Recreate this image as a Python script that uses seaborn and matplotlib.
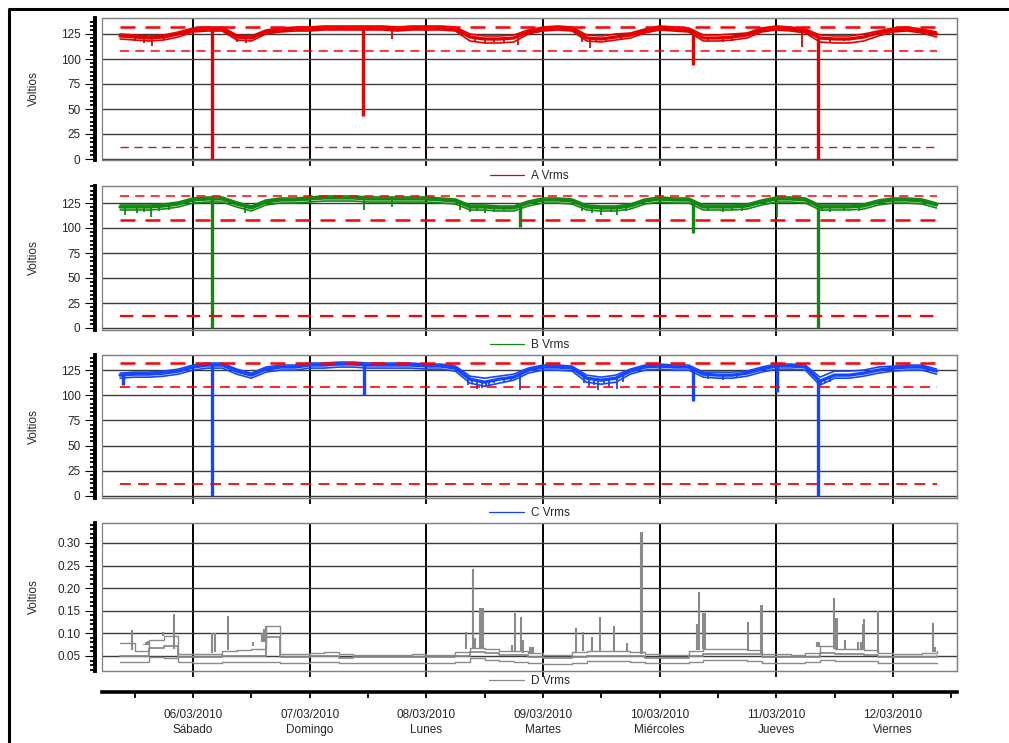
import numpy as np
import matplotlib
matplotlib.use("Agg")
import matplotlib.pyplot as plt
import seaborn as sns
from matplotlib.ticker import AutoMinorLocator, NullLocator, FormatStrFormatter
from matplotlib.lines import Line2D
from matplotlib.patches import Rectangle

# ---------------- data (hours since 05/03/2010 00:00) ----------------
hours = list(range(9, 178, 3))

A_avg = [123,122,121,122,125,129,130,130,122,121,
         127,129,130,130,131,131,131,131,131,130,
         131,131,131,130,122,120,120,121,127,130,
         131,130,121,120,122,124,128,131,130,129,
         121,121,122,124,129,131,130,128,121,120,
         120,122,126,129,130,128,125]
A_hi = [125,124,123,124,127,131,132,132,124,123,
        129,131,132,132,133,133,133,133,133,132,
        133,133,133,132,125,123,123,124,129,132,
        133,132,124,123,125,126,130,133,132,131,
        124,124,125,126,131,133,132,130,124,123,
        123,125,128,131,132,130,127]
A_lo = [120,119,118,119,122,127,128,128,119,118,
        125,127,128,128,129,129,129,129,129,128,
        129,129,129,128,118,116,116,117,125,128,
        129,128,118,117,119,121,126,129,128,127,
        118,118,119,121,127,129,128,126,117,116,
        116,118,123,127,128,126,122]
A_drop_t = [28.0, 59.0, 126.9, 152.6]
A_drop_v = [0, 43, 94, 0]
A_tick_t = [12.0, 14.0, 15.5, 18.0, 33.0, 35.0, 65.0, 82.0, 84.0, 86.0, 88.0, 90.9,
            104.0, 105.7, 107.0, 109.0, 112.0, 130.0, 133.0, 135.0, 149.3, 155.0, 158.0]
A_tick_v = [118, 116, 113, 119, 117, 116, 120, 117, 116, 117, 116, 114,
            117, 111, 117, 118, 119, 118, 117, 118, 112, 117, 118]

B_avg = [121,121,121,122,124,128,129,129,124,120,
         126,128,128,129,130,130,130,129,129,129,
         129,129,128,127,121,121,120,120,125,128,
         128,127,121,120,120,122,127,129,128,128,
         121,121,121,122,126,129,129,128,121,121,
         121,122,126,128,128,127,123]
B_hi = [123,123,123,124,126,130,131,131,126,122,
        128,130,130,131,132,132,132,131,131,131,
        131,131,130,129,123,123,122,122,127,130,
        130,129,123,122,122,124,129,131,130,130,
        123,123,123,124,128,131,131,130,123,123,
        123,124,128,130,130,129,125]
B_lo = [118,118,118,119,121,125,126,126,121,117,
        123,125,125,126,127,127,127,126,126,126,
        126,126,125,124,118,118,117,117,122,125,
        125,124,118,117,117,119,124,126,125,125,
        118,118,118,119,123,126,126,125,118,118,
        118,119,123,125,125,124,120]
B_drop_t = [27.9, 91.2, 126.9, 152.6]
B_drop_v = [0, 101, 95, 0]
B_tick_t = [10.0, 12.5, 14.0, 15.3, 17.0, 19.0, 34.8, 59.1, 65.0, 79.0,
            81.0, 82.5, 84.0, 86.0, 88.0, 104.0, 106.0, 108.0, 110.0, 111.3,
            113.0, 130.0, 133.0, 135.0, 137.0, 144.2, 153.5, 155.0, 158.0, 161.0]
B_tick_v = [113, 115, 116, 111, 117, 118, 115, 118, 121, 118,
            116, 117, 115, 116, 117, 117, 115, 113, 116, 113,
            117, 117, 116, 118, 117, 111, 117, 116, 118, 117]

C_avg = [120,121,121,122,124,128,130,130,124,120,
         126,128,128,130,130,131,131,130,130,130,
         130,129,129,127,116,113,116,118,125,128,
         128,127,117,115,117,124,128,129,128,128,
         121,120,120,122,126,129,129,128,114,120,
         120,122,125,127,128,128,124]
C_hi = [122,123,123,124,126,130,132,132,126,122,
        128,130,130,132,132,133,133,132,132,132,
        132,131,131,129,119,117,119,121,127,130,
        130,129,120,118,120,126,130,131,130,130,
        123,123,123,124,128,131,131,130,118,124,
        124,125,128,129,130,130,126]
C_lo = [117,118,118,119,121,125,127,127,121,117,
        123,125,125,127,127,128,128,127,127,127,
        127,126,126,124,112,109,112,115,122,125,
        125,124,113,111,113,121,125,126,125,125,
        118,117,117,119,123,126,126,125,110,117,
        117,119,122,124,125,125,121]
C_drop_t = [9.7, 27.9, 59.1, 126.9, 144.2, 152.6]
C_drop_v = [110, 0, 100, 94, 103, 0]
C_tick_t = [80.5, 81.5, 82.5, 83.4, 84.2, 85.0, 86.0, 88.0, 89.5, 91.2,
            104.5, 105.5, 106.5, 107.4, 108.5, 109.5, 111.3, 112.5,
            130.0, 133.0, 136.0, 153.2, 154.0, 155.0]
C_tick_v = [110, 112, 106, 107, 108, 109, 112, 113, 114, 105,
            112, 109, 110, 105, 111, 108, 106, 113,
            116, 115, 117, 110, 112, 113]

D_max = [0.078,0.060,0.085,0.095,0.054,0.054,0.055,0.062,0.064,0.066,
         0.116,0.054,0.054,0.056,0.058,0.054,0.053,0.053,0.053,0.053,
         0.054,0.053,0.053,0.058,0.068,0.066,0.062,0.060,0.056,0.053,
         0.053,0.058,0.062,0.062,0.060,0.058,0.054,0.053,0.053,0.060,
         0.066,0.066,0.066,0.064,0.055,0.054,0.053,0.056,0.072,0.066,
         0.066,0.064,0.056,0.055,0.055,0.056,0.060]
D_avg = [0.050,0.050,0.068,0.072,0.048,0.047,0.047,0.049,0.050,0.050,
         0.092,0.047,0.047,0.049,0.050,0.046,0.047,0.047,0.047,0.047,
         0.047,0.047,0.047,0.050,0.058,0.056,0.053,0.052,0.048,0.045,
         0.045,0.048,0.051,0.051,0.050,0.049,0.046,0.046,0.046,0.050,
         0.055,0.055,0.055,0.054,0.048,0.047,0.047,0.048,0.056,0.054,
         0.054,0.053,0.048,0.048,0.048,0.048,0.049]
D_min = [0.037,0.037,0.048,0.045,0.036,0.034,0.034,0.036,0.037,0.037,
         0.036,0.035,0.035,0.036,0.036,0.034,0.034,0.034,0.034,0.034,
         0.034,0.034,0.034,0.036,0.045,0.042,0.038,0.037,0.035,0.032,
         0.032,0.035,0.039,0.039,0.038,0.037,0.034,0.034,0.034,0.037,
         0.041,0.041,0.041,0.040,0.035,0.034,0.034,0.036,0.041,0.040,
         0.040,0.039,0.035,0.034,0.034,0.034,0.035]
D_spike_t = [11.5, 13.7, 14.0, 14.4, 14.8, 17.9, 20.1, 27.9, 28.5, 31.3,
             36.4, 38.1, 38.6, 39.0, 80.1, 81.7, 82.0, 83.0, 83.3, 83.6,
             89.6, 90.25, 91.4, 91.8, 93.3, 93.7, 94.0, 102.9, 104.3, 106.0,
             107.7, 110.6, 113.2, 116.1, 116.4, 127.8, 128.1, 129.0, 129.3, 138.3,
             140.8, 141.1, 152.4, 152.8, 155.9, 156.2, 156.6, 158.2, 160.9, 161.4,
             161.9, 162.1, 165.0, 176.2, 176.7]
D_spike_v = [0.108, 0.075, 0.075, 0.075, 0.075, 0.102, 0.143, 0.100, 0.100, 0.138,
             0.080, 0.080, 0.080, 0.080, 0.102, 0.243, 0.090, 0.155, 0.155, 0.155,
             0.075, 0.144, 0.136, 0.085, 0.070, 0.070, 0.070, 0.111, 0.104, 0.091,
             0.136, 0.116, 0.078, 0.323, 0.323, 0.120, 0.192, 0.144, 0.144, 0.126,
             0.163, 0.163, 0.082, 0.082, 0.178, 0.133, 0.133, 0.085, 0.080, 0.080,
             0.120, 0.131, 0.150, 0.124, 0.070]

volt_limits = [132, 108, 12]
volt_ticks = [0, 25, 50, 75, 100, 125]
thd_ticks = [0.05, 0.10, 0.15, 0.20, 0.25, 0.30]

day_pos = [24, 48, 72, 96, 120, 144, 168]
half_pos = [12, 36, 60, 84, 108, 132, 156, 180]
day_labels = ["06/03/2010\nSábado", "07/03/2010\nDomingo", "08/03/2010\nLunes",
              "09/03/2010\nMartes", "10/03/2010\nMiércoles", "11/03/2010\nJueves",
              "12/03/2010\nViernes"]
series_labels = ["A Vrms", "B Vrms", "C Vrms", "D Vrms"]
ylabel = "Voltios"

# ---------------- style ----------------
sns.set_style("white")
plt.rcParams['font.family'] = ['Liberation Sans', 'DejaVu Sans']
FS = 8.5

W, H = 1009, 743
fig = plt.figure(figsize=(W / 100, H / 100), dpi=100)

XL = (5.28, 181.2)
left_px, right_px = 102, 957
panels_px = [(18, 160), (186, 330), (355, 498), (523, 671)]
legend_y_px = [176, 345, 513, 681]
ylims = [(-1, 141), (-2, 142), (-2, 140), (0.0168, 0.344)]

GRID_H = '#3a3a3a'
BOX = '#808080'


def make_axes(i):
    top, bot = panels_px[i]
    ax = fig.add_axes([left_px / W, 1 - bot / H, (right_px - left_px) / W, (bot - top) / H])
    ax.set_xlim(*XL)
    ax.set_ylim(*ylims[i])
    ax.set_axisbelow(True)
    for s in ['top', 'right', 'bottom']:
        ax.spines[s].set_color(BOX)
        ax.spines[s].set_linewidth(0.9)
    ax.spines['left'].set_position(('outward', 5))
    ax.spines['left'].set_linewidth(2.8)
    ax.spines['left'].set_color('black')
    ax.add_patch(Rectangle((0, 0), 1, 1, transform=ax.transAxes, fill=False,
                           ec=BOX, lw=0.9, clip_on=False, zorder=5))
    ax.set_xticks(day_pos)
    ax.set_xticklabels([])
    ax.xaxis.set_minor_locator(NullLocator())
    ax.tick_params(axis='x', which='major', direction='out', length=4, width=1.3,
                   color='black', bottom=True)
    ax.tick_params(axis='y', which='major', direction='out', length=7, width=0.8,
                   pad=3.5, labelsize=FS, color='black', left=True)
    ax.tick_params(axis='y', which='minor', direction='out', length=3.5, width=1.3,
                   color='black', left=True)
    ax.grid(axis='y', which='major', color=GRID_H, lw=1.0)
    ax.grid(axis='x', which='major', color='black', lw=1.4)
    ax.set_ylabel(ylabel, fontsize=FS)
    ax.yaxis.set_label_coords(-0.073, 0.5)
    return ax


def add_legend(ax, i, color):
    h = Line2D([], [], color=color, lw=0.9)
    ax.legend([h], [series_labels[i]], loc='center',
              bbox_to_anchor=(0.5 * (left_px + right_px) / W, 1 - legend_y_px[i] / H),
              bbox_transform=fig.transFigure, frameon=False, fontsize=FS,
              handlelength=2.9, handletextpad=0.6, borderaxespad=0, borderpad=0)


def volt_panel(i, avg, hi, lo, drop_t, drop_v, tick_t, tick_v, color, lim_styles):
    ax = make_axes(i)
    ax.set_yticks(volt_ticks)
    ax.yaxis.set_minor_locator(AutoMinorLocator(6))
    sns.lineplot(x=hours, y=hi, ax=ax, color=color, lw=1.2, estimator=None,
                 sort=False, legend=False, zorder=2)
    sns.lineplot(x=hours, y=lo, ax=ax, color=color, lw=1.2, estimator=None,
                 sort=False, legend=False, zorder=2)
    sns.lineplot(x=hours, y=avg, ax=ax, color=color, lw=2.4, estimator=None,
                 sort=False, legend=False, zorder=2)
    base_d = np.interp(drop_t, hours, avg)
    ax.vlines(drop_t, drop_v, base_d, color=color, lw=2.4, zorder=2)
    base_t = np.interp(tick_t, hours, avg)
    ax.vlines(tick_t, tick_v, base_t, color=color, lw=1.3, zorder=2)
    for val, (lw, c) in zip(volt_limits, lim_styles):
        ax.hlines(val, hours[0], hours[-1], color=c, lw=lw, linestyles=(0, (6, 4)),
                  zorder=3)
    add_legend(ax, i, color)
    return ax


RED = '#FF0000'
volt_panel(0, A_avg, A_hi, A_lo, A_drop_t, A_drop_v, A_tick_t, A_tick_v, '#E30000',
           [(1.8, RED), (1.1, RED), (1.0, '#A0284A')])
volt_panel(1, B_avg, B_hi, B_lo, B_drop_t, B_drop_v, B_tick_t, B_tick_v, '#118811',
           [(1.1, RED), (1.8, RED), (1.6, RED)])
volt_panel(2, C_avg, C_hi, C_lo, C_drop_t, C_drop_v, C_tick_t, C_tick_v, '#1446FF',
           [(1.8, RED), (1.2, RED), (1.3, RED)])

# ---- neutral panel ----
GRAY = '#8a8a8a'
ax4 = make_axes(3)
ax4.set_yticks(thd_ticks)
ax4.yaxis.set_major_formatter(FormatStrFormatter('%.2f'))
ax4.yaxis.set_minor_locator(AutoMinorLocator(5))
for ser, lw in [(D_min, 1.0), (D_avg, 1.3), (D_max, 1.0)]:
    sns.lineplot(x=hours, y=ser, ax=ax4, color=GRAY, lw=lw, estimator=None,
                 sort=False, legend=False, drawstyle='steps-post', zorder=2)
ax4.vlines(D_spike_t, np.interp(D_spike_t, hours, D_max), D_spike_v, color=GRAY,
           lw=1.5, zorder=2)
add_legend(ax4, 3, GRAY)

# ---- common time axis ----
axt = fig.add_axes([left_px / W, 1 - 692 / H, (right_px - left_px) / W, 0.0005])
axt.set_xlim(*XL)
axt.set_ylim(0, 1)
axt.patch.set_visible(False)
for s in ['top', 'left', 'right']:
    axt.spines[s].set_visible(False)
axt.spines['bottom'].set_linewidth(2.6)
axt.spines['bottom'].set_color('black')
axt.set_yticks([])
axt.set_xticks(day_pos)
axt.set_xticklabels(day_labels, fontsize=FS, linespacing=1.35)
axt.set_xticks(half_pos, minor=True)
axt.tick_params(axis='x', which='both', direction='out', length=4.5, width=1.3,
                color='black', pad=7.5, bottom=True)

# ---- outer frame ----
fig.add_artist(Line2D([8.5 / W, 8.5 / W, 1.0], [0.0, 1 - 8.5 / H, 1 - 8.5 / H],
                      transform=fig.transFigure, color='black', lw=2.2))

fig.savefig("out.png", dpi=100)
